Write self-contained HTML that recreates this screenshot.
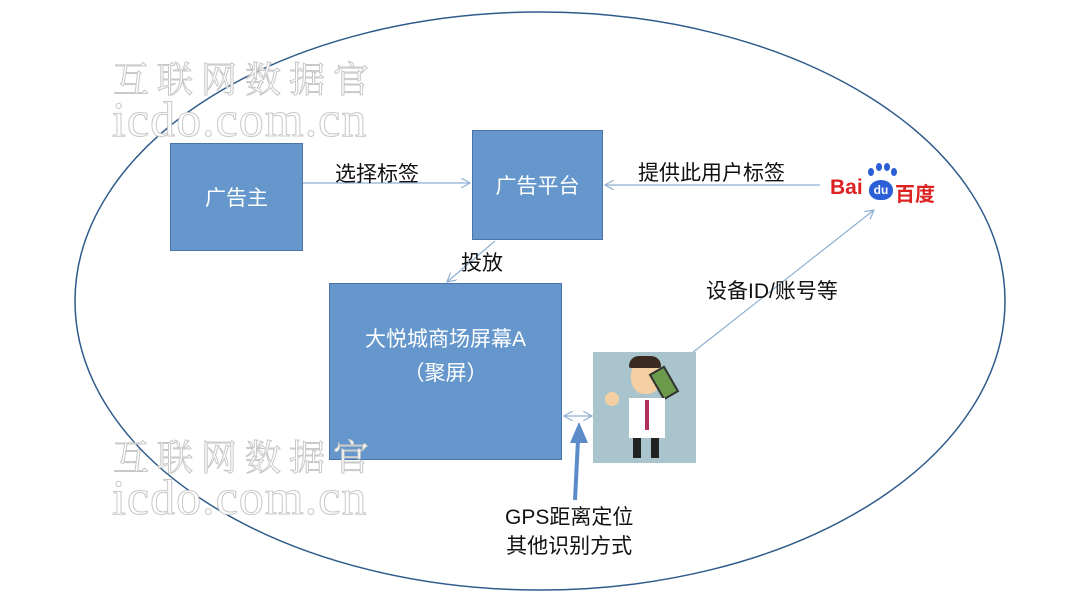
<!DOCTYPE html>
<html><head><meta charset="utf-8"><style>
body{margin:0;width:1080px;height:601px;background:#fff;position:relative;overflow:hidden;font-family:"Liberation Sans","Noto Sans CJK SC",sans-serif}
.box{position:absolute;background:#6597cc;border:1.5px solid #4a74a8;color:#fff;display:flex;align-items:center;justify-content:center;text-align:center;font-size:21px;box-sizing:border-box}
.t{position:absolute;color:#111;font-size:21px;white-space:nowrap}
.wm{position:absolute;color:#fff;-webkit-text-stroke:1px #c8c8c8;font-family:"Liberation Serif","Noto Serif CJK SC",serif;white-space:nowrap}
</style></head><body>
<svg width="1080" height="601" style="position:absolute;left:0;top:0">
<defs><marker id="a" markerWidth="10" markerHeight="10" refX="9" refY="5" orient="auto" markerUnits="userSpaceOnUse"><path d="M0,0 L9,5 L0,10" fill="none" stroke="#8fb0d3" stroke-width="1.2"/></marker></defs>
<ellipse cx="540" cy="301" rx="465" ry="289" fill="none" stroke="#2f5b8a" stroke-width="1.5"/>
<line x1="303" y1="183" x2="470" y2="183" stroke="#8fb0d3" stroke-width="1.2" marker-end="url(#a)"/>
<line x1="820" y1="185" x2="605" y2="185" stroke="#8fb0d3" stroke-width="1.2" marker-end="url(#a)"/>
<line x1="495" y1="241" x2="447" y2="282" stroke="#8fb0d3" stroke-width="1.2" marker-end="url(#a)"/>
<line x1="692" y1="353" x2="874" y2="210" stroke="#8fb0d3" stroke-width="1.2" marker-end="url(#a)"/>
<line x1="578" y1="416" x2="592" y2="416" stroke="#8fb0d3" stroke-width="1.2" marker-end="url(#a)"/>
<line x1="578" y1="416" x2="564" y2="416" stroke="#8fb0d3" stroke-width="1.2" marker-end="url(#a)"/>
<line x1="575" y1="500" x2="578" y2="440" stroke="#5b8cc8" stroke-width="4"/>
<polygon points="579,422 570,443 588,443" fill="#5b8cc8"/>
</svg>
<div class="wm" style="left:113px;top:52px;font-size:36px;letter-spacing:8px">互联网数据官</div>
<div class="wm" style="left:112px;top:90px;font-size:50px;letter-spacing:1px">icdo.com.cn</div>
<div class="box" style="left:170px;top:143px;width:133px;height:108px">广告主</div>
<div class="box" style="left:472px;top:130px;width:131px;height:110px">广告平台</div>
<div class="box" style="left:329px;top:283px;width:233px;height:177px;line-height:34px;padding-bottom:30px">大悦城商场屏幕A<br>（聚屏）</div>
<div class="wm" style="left:113px;top:430px;font-size:36px;letter-spacing:8px">互联网数据官</div>
<div class="wm" style="left:112px;top:468px;font-size:50px;letter-spacing:1px">icdo.com.cn</div>
<div class="t" style="left:335px;top:158px">选择标签</div>
<div class="t" style="left:638px;top:157px">提供此用户标签</div>
<div class="t" style="left:461px;top:247px">投放</div>
<div class="t" style="left:706px;top:275px">设备ID/账号等</div>
<div class="t" style="left:505px;top:503px;line-height:29px;text-align:center">GPS距离定位<br>其他识别方式</div>
<div style="position:absolute;left:830px;top:176px;font-weight:bold;color:#d22;font-size:21px">Bai</div>
<div style="position:absolute;left:869px;top:180px;width:24px;height:20px;background:#2b5fd6;border-radius:50% 50% 45% 45%;color:#fff;font-size:12px;text-align:center;line-height:20px;font-weight:bold">du</div>
<div style="position:absolute;left:868px;top:168px;width:6px;height:8px;background:#2b5fd6;border-radius:50%"></div>
<div style="position:absolute;left:876px;top:163px;width:6px;height:8px;background:#2b5fd6;border-radius:50%"></div>
<div style="position:absolute;left:884px;top:163px;width:6px;height:8px;background:#2b5fd6;border-radius:50%"></div>
<div style="position:absolute;left:891px;top:168px;width:6px;height:8px;background:#2b5fd6;border-radius:50%"></div>
<div style="position:absolute;left:895px;top:178px;font-weight:bold;color:#d22;font-size:20px">百度</div>
<div style="position:absolute;left:593px;top:352px;width:103px;height:111px;background:#a9c4cc">
<div style="position:absolute;left:38px;top:8px;width:30px;height:34px;background:#f3cfa2;border-radius:45%"></div>
<div style="position:absolute;left:36px;top:4px;width:32px;height:12px;background:#3a2a20;border-radius:10px 10px 2px 2px"></div>
<div style="position:absolute;left:62px;top:16px;width:14px;height:26px;background:#6a9a4a;border:2px solid #333;transform:rotate(-30deg)"></div>
<div style="position:absolute;left:36px;top:46px;width:36px;height:40px;background:#fff"></div>
<div style="position:absolute;left:52px;top:48px;width:4px;height:30px;background:#b03060"></div>
<div style="position:absolute;left:40px;top:86px;width:8px;height:20px;background:#222"></div>
<div style="position:absolute;left:58px;top:86px;width:8px;height:20px;background:#222"></div>
<div style="position:absolute;left:12px;top:40px;width:14px;height:14px;background:#f3cfa2;border-radius:50%"></div>
</div>
</body></html>
